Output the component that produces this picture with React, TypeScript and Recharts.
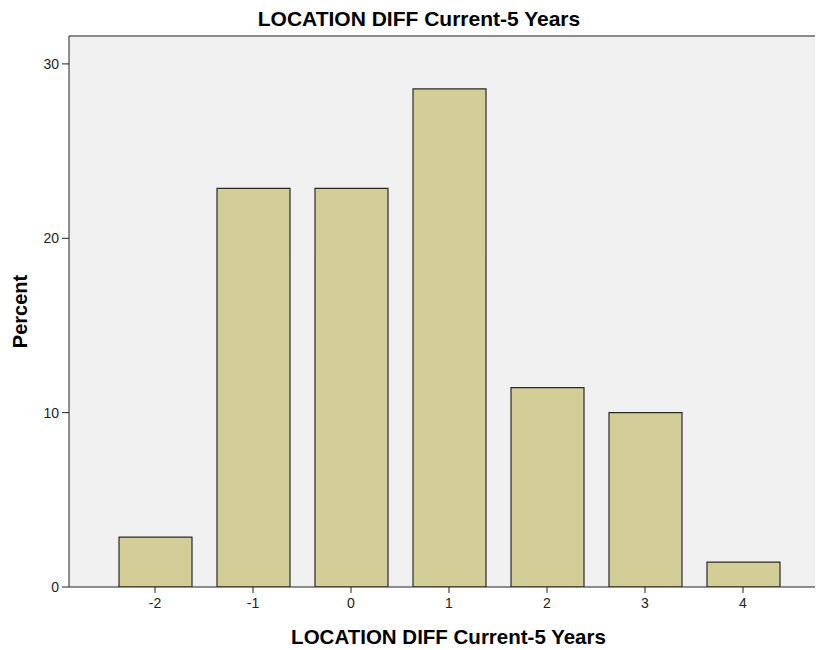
import React from "react";
import { BarChart, Bar, XAxis, YAxis, CartesianGrid, ReferenceLine, Label } from "recharts";

const categories = ["-2", "-1", "0", "1", "2", "3", "4"];
const percents = [2.86, 22.86, 22.86, 28.57, 11.43, 10.0, 1.43];
const yTicks = [0, 10, 20, 30];
const yMax = 31.6;
const titleText = "LOCATION DIFF Current-5 Years";
const xLabelText = "LOCATION DIFF Current-5 Years";
const yLabelText = "Percent";

const data = categories.map((c, i) => ({ cat: c, pct: percents[i] }));

const FONT = "'Liberation Sans', Arial, sans-serif";

const YLabel = (props: any) => {
  const vb = props.viewBox || {};
  const x = vb.x + 11.5;
  const y = vb.y + vb.height / 2;
  return (
    <text
      x={x}
      y={y}
      transform={`rotate(-90, ${x}, ${y})`}
      textAnchor="middle"
      dominantBaseline="central"
      fontFamily={FONT}
      fontWeight="bold"
      fontSize={20}
      fill="#000"
    >
      {yLabelText}
    </text>
  );
};

const XLabel = (props: any) => {
  const vb = props.viewBox || {};
  const x = vb.x + vb.width / 2;
  const y = vb.y + 49;
  return (
    <text
      x={x}
      y={y}
      textAnchor="middle"
      dominantBaseline="central"
      fontFamily={FONT}
      fontWeight="bold"
      fontSize={20.5}
      fill="#000"
    >
      {xLabelText}
    </text>
  );
};

export default function App() {
  return (
    <div style={{ position: "relative", width: 830, height: 642, overflow: "hidden", fontFamily: FONT }}>
      <style>{`html,body{overflow:hidden}`}</style>
      <div
        style={{
          position: "absolute",
          top: 0,
          left: 0,
          width: 822,
          height: 22,
          lineHeight: "22px",
          textAlign: "center",
          fontWeight: "bold",
          fontSize: 21,
          color: "#000",
          fontFamily: FONT,
        }}
      >
        {titleText}
      </div>
      <BarChart
        width={820}
        height={642}
        data={data}
        margin={{ top: 28, right: 0, left: 0, bottom: 0 }}
        barSize={73}
      >
        <CartesianGrid fill="#F0F0F0" stroke="none" horizontal={false} vertical={false} />
        <ReferenceLine y={yMax} stroke="#8a8a8a" strokeWidth={2} />
        <XAxis
          dataKey="cat"
          height={63}
          padding={{ left: 37, right: 36 }}
          tickSize={6}
          tickMargin={5}
          tickLine={{ stroke: "#222" }}
          axisLine={{ stroke: "#222" }}
          tick={{ fill: "#222", fontSize: 14, fontFamily: FONT }}
          interval={0}
        >
          <Label content={XLabel} />
        </XAxis>
        <YAxis
          width={61}
          domain={[0, yMax]}
          ticks={yTicks}
          allowDataOverflow
          tickSize={7}
          tickMargin={3}
          tickLine={{ stroke: "#222" }}
          axisLine={{ stroke: "#222" }}
          tick={{ fill: "#222", fontSize: 14, fontFamily: FONT }}
        >
          <Label content={YLabel} />
        </YAxis>
        <Bar dataKey="pct" fill="#D3CE98" stroke="#2a2a2a" strokeWidth={1.2} isAnimationActive={false} />
      </BarChart>
    </div>
  );
}
